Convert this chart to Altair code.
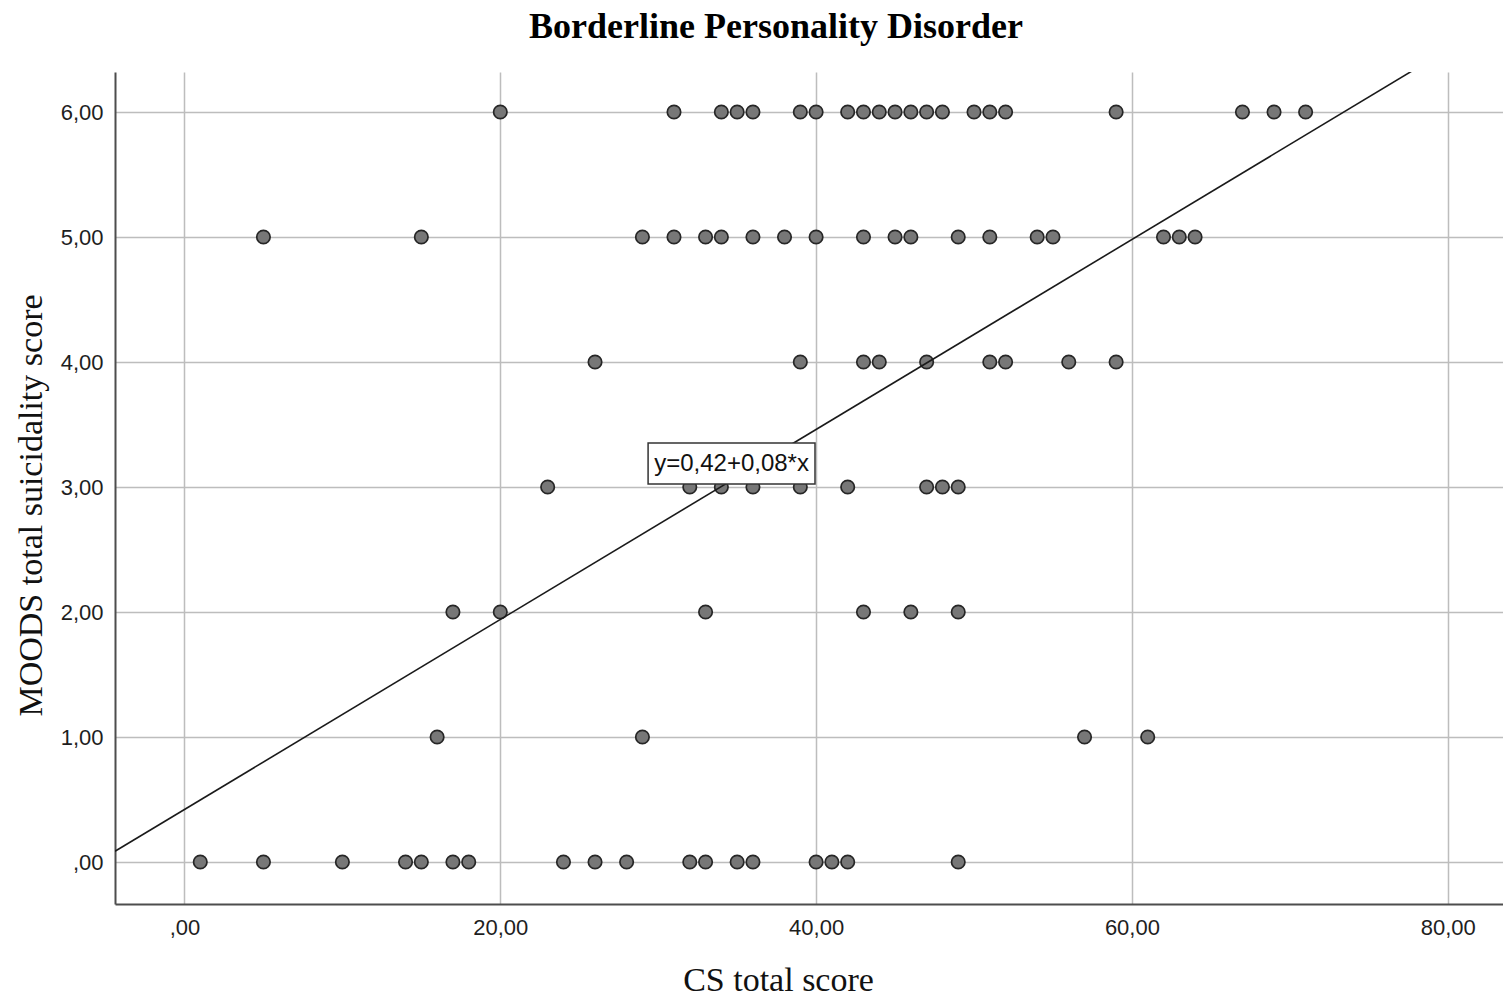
import altair as alt
import pandas as pd

# CS total score of each respondent, grouped by MOODS total suicidality score
cs_at_6 = [20, 31, 34, 35, 36, 39, 40, 42, 43, 44, 45, 46, 47, 48, 50, 51, 52, 59, 67, 69, 71]
cs_at_5 = [5, 15, 29, 31, 33, 34, 36, 38, 40, 43, 45, 46, 49, 51, 54, 55, 62, 63, 64]
cs_at_4 = [26, 39, 43, 44, 47, 51, 52, 56, 59]
cs_at_3 = [23, 32, 34, 36, 39, 42, 47, 48, 49]
cs_at_2 = [17, 20, 33, 43, 46, 49]
cs_at_1 = [16, 29, 57, 61]
cs_at_0 = [1, 5, 10, 14, 15, 17, 18, 24, 26, 28, 32, 33, 35, 36, 40, 41, 42, 49]
moods_levels = [6, 5, 4, 3, 2, 1, 0]

x_ticks = [0, 20, 40, 60, 80]
y_ticks = [0, 1, 2, 3, 4, 5, 6]
x_domain = [-4.4, 83.5]
y_domain = [-0.336, 6.32]

# fitted line as drawn, and its label
fit_intercept = 0.42
fit_slope = 0.076
fit_label = "y=0,42+0,08*x"
label_box = {"cs": 29.36, "cs2": 39.93, "moods": 3.024, "moods2": 3.352}

groups = [cs_at_6, cs_at_5, cs_at_4, cs_at_3, cs_at_2, cs_at_1, cs_at_0]
rows = []
for level, xs in zip(moods_levels, groups):
    for v in xs:
        rows.append({"cs": v, "moods": level})
points_df = pd.DataFrame(rows)

line_df = pd.DataFrame({
    "cs": x_domain,
    "moods": [fit_intercept + fit_slope * v for v in x_domain],
})
box_df = pd.DataFrame([label_box])
text_df = pd.DataFrame([{
    "cs": (label_box["cs"] + label_box["cs2"]) / 2,
    "moods": (label_box["moods"] + label_box["moods2"]) / 2,
    "label": fit_label,
}])

label_expr = "datum.value == 0 ? ',00' : replace(format(datum.value, '.2f'), '.', ',')"

x_enc = alt.X(
    "cs:Q",
    scale=alt.Scale(domain=x_domain, nice=False, zero=False),
    axis=alt.Axis(
        values=x_ticks, labelExpr=label_expr, grid=True,
        gridColor="#bdbdbd", gridWidth=1.5,
        domainColor="#4d4d4d", domainWidth=2,
        ticks=False, tickSize=0,
        labelFont="Liberation Sans", labelFontSize=22, labelColor="#1e1e1e",
        labelPadding=13,
        title="CS total score", titleFont="Liberation Serif", titleFontSize=34,
        titleFontWeight="normal", titleColor="#111111",
        titleX=663, titleY=86, titleBaseline="alphabetic",
    ),
)
y_enc = alt.Y(
    "moods:Q",
    scale=alt.Scale(domain=y_domain, nice=False, zero=False),
    axis=alt.Axis(
        values=y_ticks, labelExpr=label_expr, grid=True,
        gridColor="#bdbdbd", gridWidth=1.5,
        domainColor="#4d4d4d", domainWidth=2,
        ticks=False, tickSize=0,
        labelFont="Liberation Sans", labelFontSize=22, labelColor="#1e1e1e",
        labelPadding=12,
        title="MOODS total suicidality score", titleFont="Liberation Serif",
        titleFontSize=34, titleFontWeight="normal", titleColor="#111111",
        titleX=-74, titleY=433, titleAngle=270, titleBaseline="alphabetic",
    ),
)

points = alt.Chart(points_df).mark_circle(
    size=180, color="#777777", stroke="#262626", strokeWidth=1.7, opacity=1
).encode(x=x_enc, y=y_enc)

line = alt.Chart(line_df).mark_line(
    color="#1a1a1a", strokeWidth=1.6, clip=True
).encode(x=x_enc, y=y_enc)

box = alt.Chart(box_df).mark_rect(
    fill="white", stroke="#333333", strokeWidth=1.5
).encode(x=x_enc, x2="cs2:Q", y=y_enc, y2="moods2:Q")

label = alt.Chart(text_df).mark_text(
    font="Liberation Sans", fontSize=24, color="#111111",
    align="center", baseline="middle"
).encode(x=x_enc, y=y_enc, text="label:N")

chart = alt.layer(points, line, box, label).properties(
    width=1388,
    height=832,
    padding={"left": 107, "top": 64, "right": 0, "bottom": 94},
    autosize=alt.AutoSizeParams(type="none"),
    background="white",
    title=alt.Title(
        "Borderline Personality Disorder",
        font="Liberation Serif", fontSize=36, fontWeight="bold", color="#000000",
        anchor="middle", dx=-33, offset=26,
    ),
).configure_view(stroke=None)

chart.save("out.html", embed_options={"renderer": "svg", "actions": False})
